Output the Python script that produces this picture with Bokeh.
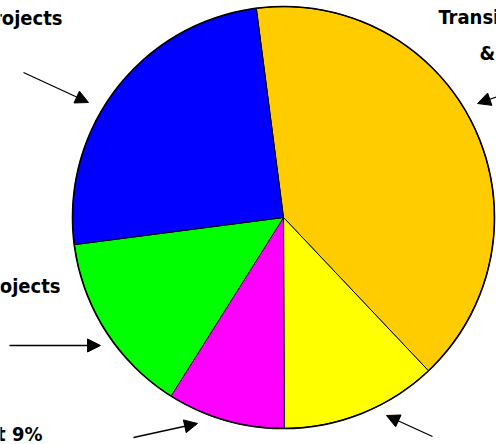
import numpy as np
from bokeh.plotting import figure
from bokeh.models import Range1d, Arrow, NormalHead, ColumnDataSource
from bokeh.core.properties import value
from bokeh.embed import file_html
from bokeh.resources import INLINE

# ---- data (clockwise from the top) ----
categories = ["Transit Operations & Maintenance", "Other", "Admin & Debt", "Local Projects", "Highway Projects"]
shares = [40, 12, 9, 14, 25]
colors = ["#FFCC00", "#FFFF00", "#FF00FF", "#00FF00", "#0000FF"]

# visible label lines (page is a crop of a larger chart)
label_lines = ["Highway Projects", "Transit Operations", "& Maintenance", "Local Projects", "Admin & Debt 9%"]

# ---- layout (pixel coordinates of the 496x444 picture) ----
W, H = 496, 444
CX, CY, R = 283, 217, 211
START_DEG = 97.4
label_x = [62, 438, 479, 60, 42]
label_ypix = [17, 16, 52, 285, 433]
label_align = ["right", "left", "left", "right", "right"]
arrow_tail = [(23, 72), (500, 95), (9, 345), (133, 437), (432, 436)]
arrow_tip = [(88, 102), (477, 103), (100, 345), (197, 423), (386, 415)]

p = figure(width=W, height=H, output_backend="svg", toolbar_location=None,
           x_range=Range1d(0, W), y_range=Range1d(0, H),
           x_axis_location=None, y_axis_location=None, min_border=0)
p.grid.visible = False
p.outline_line_color = None
p.background_fill_color = "white"

frac = np.array(shares, dtype=float) / sum(shares)
cum = np.concatenate([[0], np.cumsum(frac)])
start0 = np.deg2rad(START_DEG)
ends = start0 - cum[:-1] * 2 * np.pi
starts = start0 - cum[1:] * 2 * np.pi

src = ColumnDataSource(dict(start=starts, end=ends, color=colors, cat=categories))
p.wedge(x=CX, y=H - CY, radius=R, start_angle="start", end_angle="end",
        fill_color="color", line_color="black", line_width=1, source=src)
p.circle(x=[CX], y=[H - CY], radius=R, fill_color=None, line_color="black", line_width=1.6)

for txt, x, yp, al in zip(label_lines, label_x, label_ypix, label_align):
    p.text(x=[x], y=[H - yp], text=[txt], text_font=value("DejaVu Sans Condensed"),
           text_font_style="bold", text_font_size="20px", text_color="black",
           text_align=al, text_baseline="alphabetic")

for (tx, ty), (hx, hy) in zip(arrow_tail, arrow_tip):
    p.add_layout(Arrow(end=NormalHead(size=13, fill_color="black", line_color="black", line_width=1),
                       x_start=tx, y_start=H - ty, x_end=hx, y_end=H - hy,
                       line_color="black", line_width=1.3))

open("out.html", "w").write(file_html(p, INLINE))
